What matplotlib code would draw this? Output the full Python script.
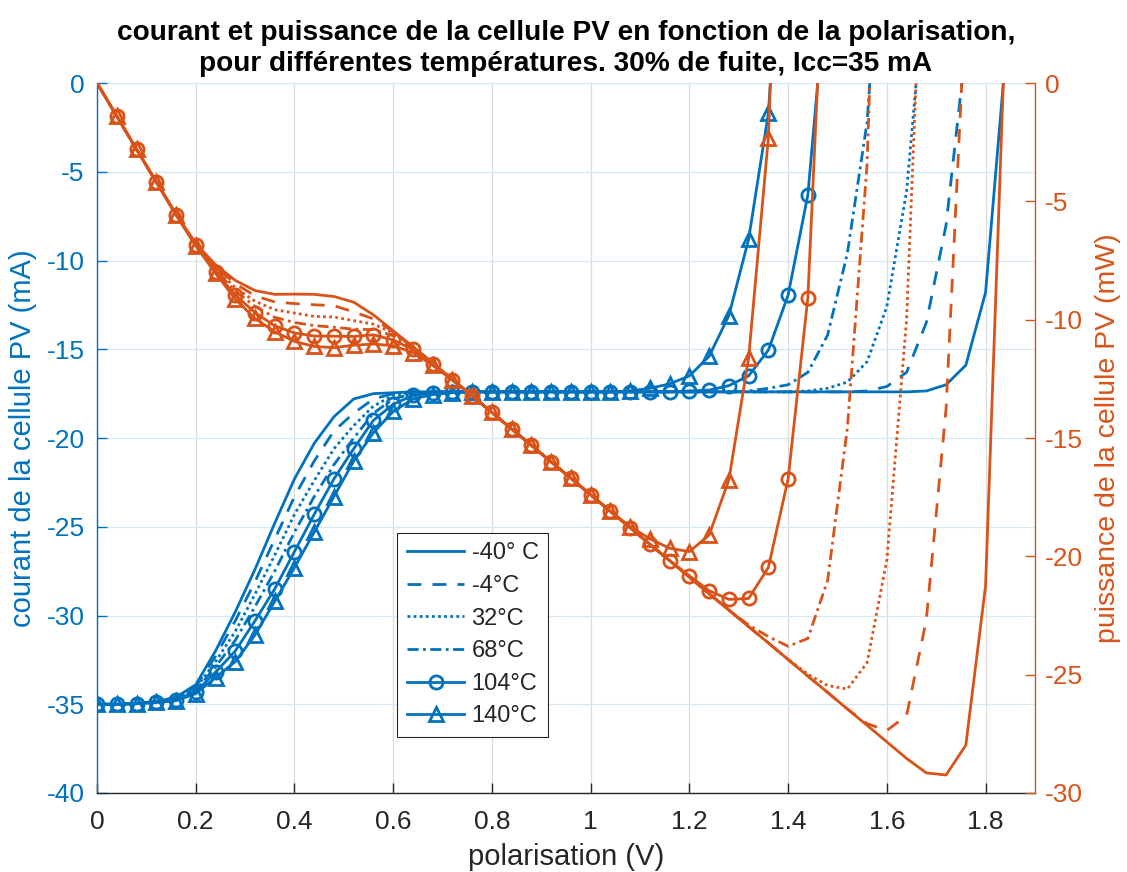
import matplotlib
matplotlib.use("Agg")
import matplotlib.pyplot as plt

plt.rcParams['font.family'] = ['Liberation Sans', 'DejaVu Sans']
plt.rcParams['axes.unicode_minus'] = False

# ---------------- data ----------------
voltage = [0.00, 0.04, 0.08, 0.12, 0.16, 0.20, 0.24, 0.28, 0.32, 0.36, 0.40, 0.44,
           0.48, 0.52, 0.56, 0.60, 0.64, 0.68, 0.72, 0.76, 0.80, 0.84, 0.88, 0.92,
           0.96, 1.00, 1.04, 1.08, 1.12, 1.16, 1.20, 1.24, 1.28, 1.32, 1.36, 1.40,
           1.44, 1.48, 1.52, 1.56, 1.60, 1.64, 1.68, 1.72, 1.76, 1.80, 1.84, 1.88]

labels = ['-40° C', '-4°C', '32°C', '68°C', '104°C', '140°C']

# current (mA)
cur_m40 = [-35.0, -35.0, -34.95, -34.85, -34.6, -33.9, -32.0, -29.8, -27.4, -24.8, -22.3, -20.3,
           -18.8, -17.8, -17.5, -17.45, -17.4, -17.4, -17.4, -17.4, -17.4, -17.4, -17.4, -17.4,
           -17.4, -17.4, -17.4, -17.4, -17.4, -17.4, -17.4, -17.4, -17.4, -17.4, -17.4, -17.4,
           -17.4, -17.4, -17.4, -17.4, -17.4, -17.4, -17.35, -17.0, -15.9, -11.8, 1.3, 25.0]
cur_m4 = [-35.0, -35.0, -34.95, -34.85, -34.65, -34.0, -32.3, -30.3, -28.1, -25.7, -23.3, -21.3,
          -19.6, -18.6, -17.8, -17.5, -17.4, -17.4, -17.4, -17.4, -17.4, -17.4, -17.4, -17.4,
          -17.4, -17.4, -17.4, -17.4, -17.4, -17.4, -17.4, -17.4, -17.4, -17.4, -17.4, -17.4,
          -17.4, -17.4, -17.4, -17.35, -17.1, -16.3, -13.5, -8.0, 2.0]
cur_32 = [-35.0, -35.0, -34.95, -34.85, -34.7, -34.1, -32.6, -30.9, -28.8, -26.6, -24.3, -22.4,
          -20.6, -19.3, -18.2, -17.6, -17.45, -17.4, -17.4, -17.4, -17.4, -17.4, -17.4, -17.4,
          -17.4, -17.4, -17.4, -17.4, -17.4, -17.4, -17.4, -17.4, -17.4, -17.4, -17.4, -17.4,
          -17.35, -17.2, -16.85, -15.7, -12.6, -6.1, 6.5]
cur_68 = [-35.0, -35.0, -34.95, -34.87, -34.7, -34.2, -32.9, -31.4, -29.5, -27.5, -25.3, -23.3,
          -21.5, -20.0, -18.6, -17.8, -17.5, -17.4, -17.4, -17.4, -17.4, -17.4, -17.4, -17.4,
          -17.4, -17.4, -17.4, -17.4, -17.4, -17.4, -17.4, -17.4, -17.4, -17.35, -17.2, -17.0,
          -16.3, -14.2, -9.6, -2.2, 14.0]
cur_104 = [-35.0, -35.0, -34.97, -34.88, -34.75, -34.3, -33.2, -32.0, -30.3, -28.5, -26.4, -24.3,
           -22.3, -20.6, -19.0, -18.1, -17.6, -17.45, -17.4, -17.4, -17.4, -17.4, -17.4, -17.4,
           -17.4, -17.4, -17.4, -17.4, -17.4, -17.4, -17.35, -17.3, -17.05, -16.5, -15.05, -11.95,
           -6.3, 6.3]
cur_140 = [-35.0, -35.0, -34.97, -34.9, -34.8, -34.4, -33.5, -32.6, -31.1, -29.2, -27.3, -25.3,
           -23.3, -21.3, -19.7, -18.5, -17.8, -17.55, -17.45, -17.4, -17.4, -17.4, -17.4, -17.4,
           -17.4, -17.4, -17.4, -17.35, -17.2, -16.95, -16.5, -15.4, -13.1, -8.8, -1.7, 15.0]

# power (mW)
pow_m40 = [0.0, -1.40, -2.80, -4.18, -5.54, -6.78, -7.68, -8.34, -8.77, -8.93, -8.92, -8.93,
           -9.02, -9.26, -9.80, -10.47, -11.14, -11.83, -12.53, -13.22, -13.92, -14.62, -15.31, -16.01,
           -16.70, -17.40, -18.10, -18.79, -19.49, -20.18, -20.88, -21.58, -22.27, -22.97, -23.66, -24.36,
           -25.06, -25.75, -26.45, -27.14, -27.84, -28.54, -29.15, -29.24, -27.98, -21.24, 2.39, 47.0]
pow_m4 = [0.0, -1.40, -2.80, -4.18, -5.54, -6.80, -7.75, -8.48, -8.99, -9.25, -9.32, -9.37,
          -9.41, -9.67, -9.97, -10.50, -11.14, -11.83, -12.53, -13.22, -13.92, -14.62, -15.31, -16.01,
          -16.70, -17.40, -18.10, -18.79, -19.49, -20.18, -20.88, -21.58, -22.27, -22.97, -23.66, -24.36,
          -25.06, -25.75, -26.45, -27.07, -27.36, -26.73, -22.68, -13.76, 3.52]
pow_32 = [0.0, -1.40, -2.80, -4.18, -5.55, -6.82, -7.82, -8.65, -9.22, -9.58, -9.72, -9.86,
          -9.89, -10.04, -10.19, -10.56, -11.17, -11.83, -12.53, -13.22, -13.92, -14.62, -15.31, -16.01,
          -16.70, -17.40, -18.10, -18.79, -19.49, -20.18, -20.88, -21.58, -22.27, -22.97, -23.66, -24.36,
          -24.98, -25.46, -25.61, -24.49, -20.16, -10.00, 10.92]
pow_68 = [0.0, -1.40, -2.80, -4.18, -5.55, -6.84, -7.90, -8.79, -9.44, -9.90, -10.12, -10.25,
          -10.32, -10.40, -10.42, -10.68, -11.20, -11.83, -12.53, -13.22, -13.92, -14.62, -15.31, -16.01,
          -16.70, -17.40, -18.10, -18.79, -19.49, -20.18, -20.88, -21.58, -22.27, -22.90, -23.39, -23.80,
          -23.47, -21.02, -14.59, -3.43, 22.4]
pow_104 = [0.0, -1.40, -2.80, -4.19, -5.56, -6.86, -7.97, -8.96, -9.70, -10.26, -10.56, -10.69,
           -10.70, -10.71, -10.64, -10.86, -11.26, -11.87, -12.53, -13.22, -13.92, -14.62, -15.31, -16.01,
           -16.70, -17.40, -18.10, -18.79, -19.49, -20.18, -20.82, -21.45, -21.82, -21.78, -20.47, -16.73,
           -9.07, 9.32]
pow_140 = [0.0, -1.40, -2.80, -4.19, -5.57, -6.88, -8.04, -9.13, -9.95, -10.51, -10.92, -11.13,
           -11.18, -11.08, -11.03, -11.10, -11.39, -11.93, -12.56, -13.22, -13.92, -14.62, -15.31, -16.01,
           -16.70, -17.40, -18.10, -18.74, -19.26, -19.66, -19.80, -19.10, -16.77, -11.62, -2.31, 21.0]

x_ticks = [0, 0.2, 0.4, 0.6, 0.8, 1.0, 1.2, 1.4, 1.6, 1.8]
x_tick_labels = ['0', '0.2', '0.4', '0.6', '0.8', '1', '1.2', '1.4', '1.6', '1.8']
left_ticks = [-40, -35, -30, -25, -20, -15, -10, -5, 0]
right_ticks = [-30, -25, -20, -15, -10, -5, 0]

# ---------------- style ----------------
BLUE = '#0072BD'
ORANGE = '#D95319'
DARK = '#262626'
LW = 2.0
MS = 9.5

styles = [
    dict(ls='-', marker=None),
    dict(ls=(0, (5.0, 4.0)), marker=None),
    dict(ls=(0, (1.0, 1.2)), marker=None),
    dict(ls=(0, (4.0, 1.6, 1.0, 1.6)), marker=None),
    dict(ls='-', marker='o'),
    dict(ls='-', marker='^'),
]

currents = [cur_m40, cur_m4, cur_32, cur_68, cur_104, cur_140]
powers = [pow_m40, pow_m4, pow_32, pow_68, pow_104, pow_140]

fig = plt.figure(figsize=(11.27, 8.72), dpi=100)
ax1 = fig.add_axes([0.0861, 0.0906, 0.8322, 0.8142])
ax2 = ax1.twinx()

ax1.set_axisbelow(True)
ax1.grid(True, axis='x', color='#dcdcdc', lw=0.9)
ax1.grid(True, axis='y', color='#d6e7f4', lw=0.9)

handles = []
for cur, st, lab in zip(currents, styles, labels):
    n = len(cur)
    h, = ax1.plot(voltage[:n], cur, color=BLUE, lw=LW, linestyle=st['ls'],
                  marker=st['marker'], markersize=MS, markerfacecolor='none',
                  markeredgewidth=LW, markeredgecolor=BLUE, label=lab)
    handles.append(h)

for pw, st in zip(powers, styles):
    n = len(pw)
    ax2.plot(voltage[:n], pw, color=ORANGE, lw=LW, linestyle=st['ls'],
             marker=st['marker'], markersize=MS, markerfacecolor='none',
             markeredgewidth=LW, markeredgecolor=ORANGE, markevery=slice(1, None))

ax1.set_xlim(0, 1.9)
ax1.set_ylim(-40, 0)
ax2.set_ylim(-30, 0)

ax1.set_xticks(x_ticks)
ax1.set_xticklabels(x_tick_labels)
ax1.set_yticks(left_ticks)
ax1.set_yticklabels([str(t) for t in left_ticks])
ax2.set_yticks(right_ticks)
ax2.set_yticklabels([str(t) for t in right_ticks])

FS = 19
ax1.tick_params(axis='x', direction='in', length=7, width=1, colors=DARK, labelsize=FS, pad=12)
ax1.tick_params(axis='y', direction='in', length=7, width=1, colors=BLUE, labelsize=FS, pad=9)
ax2.tick_params(axis='y', direction='in', length=7, width=1, colors=ORANGE, labelsize=FS, pad=7)

for ax in (ax1, ax2):
    ax.spines['top'].set_visible(False)
ax1.spines['bottom'].set_color(DARK)
ax1.spines['left'].set_color(BLUE)
ax2.spines['right'].set_color(ORANGE)
ax2.spines['left'].set_visible(False)
ax2.spines['bottom'].set_visible(False)
ax1.spines['right'].set_visible(False)
for sp in ('bottom', 'left'):
    ax1.spines[sp].set_linewidth(1.0)
ax2.spines['right'].set_linewidth(1.0)

ax1.set_xlabel('polarisation (V)', fontsize=21, color=DARK, labelpad=7)
ax1.set_ylabel('courant de la cellule PV (mA)', fontsize=21, color=BLUE, labelpad=7)
ax2.set_ylabel('puissance de la cellule PV (mW)', fontsize=20.5, color=ORANGE, labelpad=9)

ax1.set_title('courant et puissance de la cellule PV en fonction de la polarisation,\n'
              'pour différentes températures. 30% de fuite, Icc=35 mA',
              fontsize=20.2, fontweight='bold', color='black', pad=9, linespacing=1.25)

leg = ax2.legend(handles=handles, labels=labels, loc='lower left',
                 bbox_to_anchor=(0.32, 0.079), fontsize=17, frameon=True,
                 fancybox=False, edgecolor=DARK, framealpha=1.0,
                 handlelength=2.45, labelspacing=0.45, borderpad=0.4,
                 handletextpad=0.3, borderaxespad=0.0)
leg.get_frame().set_linewidth(0.8)
for t in leg.get_texts():
    t.set_color(DARK)

fig.savefig('out.png', dpi=100)
